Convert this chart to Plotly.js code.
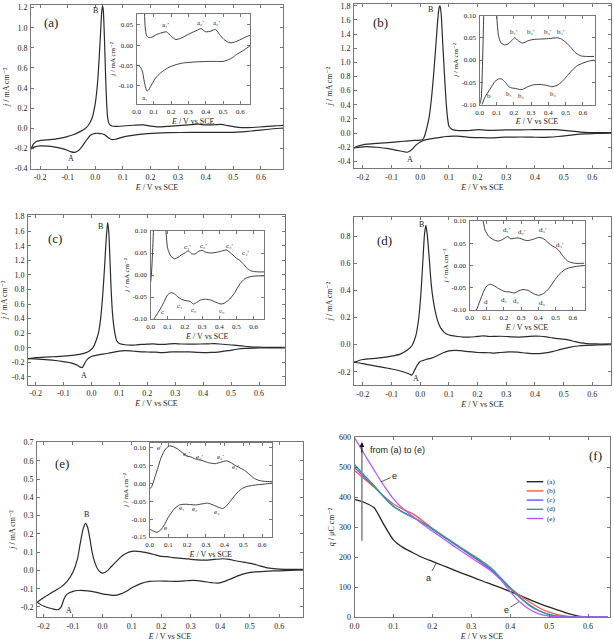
<!DOCTYPE html>
<html><head><meta charset="utf-8">
<script src="https://cdn.plot.ly/plotly-3.0.1.min.js"></script>
<style>html,body{margin:0;padding:0;background:#fff}</style>
</head><body><div id="chart" style="width:614px;height:641px"></div>
<script>
// ---------------- DATA ----------------
// (a) cyclic voltammogram: forward (anodic) and reverse (cathodic) branches
const aFwdE=[-0.233,-0.225,-0.215,-0.2,-0.165,-0.13,-0.105,-0.08,-0.057,-0.04,-0.025,-0.012,0.0,0.008,0.014,0.019,0.023,0.026,0.029,0.033,0.037,0.041,0.045,0.05,0.057,0.065,0.072,0.09,0.11,0.14,0.173,0.2,0.227,0.26,0.3,0.35,0.373,0.4,0.43,0.456,0.48,0.505,0.53,0.55,0.58,0.61,0.64,0.66,0.68];
const aFwdJ=[-0.205,-0.16,-0.133,-0.122,-0.113,-0.1,-0.086,-0.065,-0.036,-0.01,0.03,0.1,0.25,0.45,0.7,0.95,1.15,1.22,1.17,0.9,0.55,0.25,0.1,0.045,0.025,0.02,0.019,0.02,0.025,0.03,0.033,0.022,0.014,0.018,0.027,0.037,0.041,0.033,0.035,0.039,0.026,0.014,0.007,0.006,0.01,0.016,0.022,0.025,0.028];
const aRevE=[0.68,0.654,0.62,0.577,0.553,0.53,0.5,0.46,0.42,0.35,0.266,0.22,0.18,0.14,0.11,0.09,0.072,0.063,0.058,0.05,0.043,0.035,0.023,0.01,0.0,-0.015,-0.03,-0.045,-0.06,-0.075,-0.09,-0.11,-0.14,-0.17,-0.2,-0.22,-0.233];
const aRevJ=[0.003,-0.002,-0.012,-0.023,-0.031,-0.036,-0.04,-0.04,-0.04,-0.041,-0.044,-0.049,-0.056,-0.068,-0.081,-0.095,-0.109,-0.113,-0.112,-0.1,-0.085,-0.066,-0.054,-0.05,-0.05,-0.065,-0.11,-0.17,-0.22,-0.24,-0.232,-0.21,-0.19,-0.178,-0.175,-0.185,-0.205];
// (b)
const bFwdE=[-0.231,-0.22,-0.2,-0.15,-0.1,-0.06,-0.03,0.0,0.01,0.016,0.022,0.03,0.038,0.046,0.054,0.061,0.066,0.069,0.073,0.078,0.084,0.09,0.095,0.1,0.11,0.125,0.15,0.17,0.19,0.205,0.225,0.25,0.28,0.31,0.35,0.4,0.45,0.47,0.5,0.53,0.56,0.59,0.62,0.665];
const bFwdJ=[-0.21,-0.185,-0.165,-0.145,-0.13,-0.115,-0.105,-0.1,-0.085,-0.03,0.06,0.2,0.45,0.8,1.22,1.6,1.78,1.8,1.68,1.3,0.85,0.45,0.22,0.1,0.055,0.038,0.034,0.037,0.045,0.05,0.043,0.038,0.043,0.046,0.047,0.048,0.05,0.048,0.04,0.028,0.015,0.009,0.008,0.008];
const bRevE=[0.665,0.63,0.6,0.57,0.54,0.51,0.48,0.45,0.42,0.39,0.35,0.31,0.28,0.25,0.23,0.21,0.19,0.17,0.15,0.13,0.115,0.09,0.07,0.05,0.03,0.015,0.0,-0.015,-0.03,-0.045,-0.06,-0.08,-0.11,-0.15,-0.19,-0.231];
const bRevJ=[0.0,-0.003,-0.007,-0.012,-0.022,-0.035,-0.048,-0.057,-0.06,-0.057,-0.055,-0.056,-0.06,-0.066,-0.066,-0.064,-0.063,-0.06,-0.05,-0.043,-0.042,-0.048,-0.06,-0.072,-0.085,-0.1,-0.125,-0.17,-0.235,-0.27,-0.26,-0.245,-0.22,-0.2,-0.19,-0.21];
// (c)
const cFwdE=[-0.227,-0.2,-0.15,-0.1,-0.06,-0.03,-0.01,0.005,0.015,0.025,0.033,0.04,0.047,0.053,0.058,0.062,0.066,0.07,0.075,0.08,0.085,0.09,0.1,0.12,0.14,0.16,0.18,0.2,0.22,0.24,0.26,0.28,0.3,0.32,0.35,0.39,0.42,0.44,0.46,0.48,0.5,0.52,0.54,0.56,0.58,0.6,0.63,0.66,0.693];
const cFwdJ=[-0.15,-0.135,-0.125,-0.115,-0.1,-0.08,-0.05,0.0,0.08,0.2,0.4,0.7,1.1,1.5,1.72,1.6,1.25,0.85,0.5,0.3,0.18,0.1,0.06,0.042,0.037,0.04,0.046,0.05,0.055,0.048,0.048,0.054,0.056,0.052,0.05,0.052,0.055,0.057,0.052,0.045,0.038,0.033,0.025,0.016,0.01,0.008,0.007,0.007,0.006];
const cRevE=[0.693,0.66,0.62,0.58,0.55,0.52,0.49,0.46,0.43,0.41,0.38,0.35,0.32,0.29,0.27,0.25,0.23,0.2,0.18,0.16,0.14,0.12,0.1,0.08,0.06,0.04,0.02,0.0,-0.015,-0.025,-0.032,-0.04,-0.05,-0.07,-0.1,-0.14,-0.19,-0.227];
const cRevJ=[0.0,-0.002,-0.002,-0.004,-0.008,-0.02,-0.04,-0.055,-0.064,-0.066,-0.062,-0.057,-0.055,-0.057,-0.062,-0.066,-0.06,-0.058,-0.055,-0.05,-0.043,-0.04,-0.045,-0.06,-0.075,-0.088,-0.1,-0.12,-0.16,-0.22,-0.27,-0.265,-0.24,-0.21,-0.19,-0.17,-0.155,-0.15];
// (d)
const dFwdE=[-0.231,-0.2,-0.15,-0.1,-0.07,-0.045,-0.03,-0.015,-0.005,0.003,0.01,0.015,0.02,0.025,0.032,0.038,0.045,0.055,0.065,0.075,0.09,0.11,0.13,0.15,0.17,0.19,0.21,0.22,0.24,0.26,0.28,0.3,0.32,0.34,0.37,0.4,0.42,0.44,0.46,0.48,0.5,0.52,0.54,0.56,0.58,0.61,0.665];
const dFwdJ=[-0.13,-0.11,-0.1,-0.085,-0.07,-0.04,-0.01,0.07,0.2,0.4,0.65,0.82,0.88,0.8,0.62,0.45,0.33,0.22,0.15,0.11,0.08,0.066,0.06,0.056,0.055,0.058,0.063,0.065,0.06,0.061,0.062,0.06,0.057,0.056,0.059,0.063,0.062,0.057,0.05,0.044,0.04,0.033,0.022,0.013,0.008,0.005,0.005];
const dRevE=[0.665,0.62,0.58,0.55,0.52,0.49,0.46,0.43,0.4,0.37,0.34,0.31,0.28,0.26,0.24,0.2,0.17,0.14,0.12,0.1,0.08,0.06,0.04,0.02,0.0,-0.01,-0.02,-0.03,-0.04,-0.06,-0.1,-0.15,-0.2,-0.231];
const dRevJ=[0.0,-0.002,-0.005,-0.01,-0.02,-0.035,-0.052,-0.063,-0.067,-0.063,-0.056,-0.054,-0.058,-0.062,-0.06,-0.058,-0.052,-0.045,-0.042,-0.046,-0.06,-0.08,-0.1,-0.11,-0.125,-0.15,-0.19,-0.225,-0.215,-0.2,-0.18,-0.16,-0.14,-0.13];
// (e)
const eFwdE=[-0.222,-0.2,-0.17,-0.14,-0.12,-0.1,-0.085,-0.075,-0.065,-0.057,-0.05,-0.042,-0.035,-0.025,-0.015,-0.005,0.0,0.01,0.02,0.03,0.045,0.06,0.075,0.09,0.11,0.13,0.15,0.18,0.2,0.22,0.24,0.26,0.28,0.3,0.32,0.35,0.38,0.41,0.43,0.46,0.49,0.51,0.53,0.56,0.59,0.62,0.66,0.68];
const eFwdJ=[-0.175,-0.15,-0.12,-0.09,-0.06,-0.01,0.06,0.15,0.23,0.258,0.235,0.17,0.1,0.04,0.005,-0.012,-0.015,-0.01,0.003,0.02,0.045,0.07,0.088,0.1,0.106,0.103,0.097,0.085,0.077,0.075,0.07,0.067,0.065,0.061,0.058,0.056,0.06,0.064,0.06,0.05,0.042,0.036,0.027,0.014,0.008,0.006,0.006,0.006];
const eRevE=[0.68,0.66,0.62,0.58,0.55,0.52,0.49,0.46,0.43,0.41,0.39,0.37,0.34,0.31,0.28,0.25,0.22,0.19,0.16,0.13,0.1,0.08,0.06,0.04,0.02,0.0,-0.02,-0.05,-0.08,-0.1,-0.12,-0.13,-0.14,-0.15,-0.17,-0.2,-0.222];
const eRevJ=[0.003,0.002,-0.001,-0.003,-0.005,-0.008,-0.015,-0.03,-0.05,-0.063,-0.07,-0.067,-0.06,-0.055,-0.057,-0.06,-0.059,-0.058,-0.06,-0.072,-0.095,-0.115,-0.13,-0.137,-0.133,-0.128,-0.12,-0.112,-0.11,-0.115,-0.13,-0.155,-0.2,-0.215,-0.21,-0.195,-0.175];
// (f) charge density q vs E
const qE=[0,0.025,0.05,0.075,0.1,0.125,0.15,0.175,0.2,0.225,0.25,0.275,0.3,0.325,0.35,0.375,0.4,0.425,0.45,0.475,0.5,0.525,0.55,0.575,0.6,0.625,0.65];
const qA=[393,383,366,310,258,232,215,199,186,173,160,147,135,122,110,98,85,72,58,45,33,22,11,3,0,0,0];
const qB=[490,462,435,405,378,360,345,322,296,272,250,228,205,182,157,128,98,72,50,30,16,7,2,0,0,0,0];
const qC=[500,468,437,402,370,350,333,315,294,272,250,228,207,185,160,128,95,65,38,20,8,2,0,0,0,0,0];
const qD=[510,474,440,403,370,350,333,316,296,274,252,231,210,189,165,132,97,66,40,21,9,3,0,0,0,0,0];
const qEe=[600,545,492,440,395,362,336,310,287,265,242,220,198,177,155,125,85,50,25,10,3,0,0,0,0,0,0];
const fNames=['(a)','(b)','(c)','(d)','(e)'];
// tick values
const cvTicksX=[-0.2,-0.1,0.0,0.1,0.2,0.3,0.4,0.5,0.6];
const insetTicksX=[0.0,0.1,0.2,0.3,0.4,0.5,0.6];
const aTicksY=[-0.4,-0.2,0.0,0.2,0.4,0.6,0.8,1.0,1.2];
const bTicksY=[-0.4,-0.2,0.0,0.2,0.4,0.6,0.8,1.0,1.2,1.4,1.6,1.8];
const cTicksY=[-0.4,-0.2,0.0,0.2,0.4,0.6,0.8,1.0,1.2,1.4,1.6,1.8];
const dTicksY=[-0.2,0.0,0.2,0.4,0.6,0.8];
const eTicksY=[-0.2,-0.1,0.0,0.1,0.2,0.3,0.4,0.5,0.6,0.7];
const aInsetTicksY=[-0.10,-0.05,0.00,0.05];
const bcdInsetTicksY=[-0.10,-0.05,0.00,0.05,0.10];
const eInsetTicksY=[-0.15,-0.10,-0.05,0.00,0.05,0.10];
const fTicksX=[0.0,0.1,0.2,0.3,0.4,0.5,0.6];
const fTicksY=[0,100,200,300,400,500,600];

// ---------------- LAYOUT ----------------
const W=614,H=641;
const SERIF='"Liberation Serif","Times New Roman","DejaVu Serif",serif';
const SANS='"Liberation Sans",Arial,sans-serif';
const INK='#222';
function fmt(a,d){return a.map(v=>v.toFixed(d));}
function axis(px0,px1,isX,range,tv,dec,anchor,fs,title,tfs,standoff){
  const dom=isX?[px0/W,px1/W]:[1-px1/H,1-px0/H];
  return {domain:dom,range:range,anchor:anchor,tickmode:'array',tickvals:tv,ticktext:fmt(tv,dec),
    ticks:'inside',ticklen:3,tickwidth:0.8,tickcolor:'#555',showline:true,mirror:'ticks',linecolor:'#777',linewidth:1,
    showgrid:false,zeroline:false,automargin:false,fixedrange:true,ticklabelstandoff:1,
    tickfont:{family:SERIF,size:fs,color:INK},
    title:{text:title,font:{family:SERIF,size:tfs,color:INK},standoff:standoff}};
}
const XT='<i>E</i> / V vs SCE';
const YT='<i>j</i> / mA cm⁻²';
const panels=[
 {fwd:[aFwdE,aFwdJ],rev:[aRevE,aRevJ],box:[31,283,5,168.5],xr:[-0.233,0.68],yr:[-0.4,1.226],yt:aTicksY,
  ibox:[136.5,250,14,104],ixr:[0,0.655],iyr:[-0.145,0.077],iyt:aInsetTicksY},
 {fwd:[bFwdE,bFwdJ],rev:[bRevE,bRevJ],box:[354,611,4,168],xr:[-0.231,0.665],yr:[-0.493,1.825],yt:bTicksY,
  ibox:[479.5,594.5,15.5,104.5],ixr:[0,0.667],iyr:[-0.1,0.1],iyt:bcdInsetTicksY},
 {fwd:[cFwdE,cFwdJ],rev:[cRevE,cRevJ],box:[28,285,215,384.5],xr:[-0.227,0.693],yr:[-0.504,1.823],yt:cTicksY,
  ibox:[150.5,264,231,319],ixr:[0,0.66],iyr:[-0.1,0.1],iyt:bcdInsetTicksY},
 {fwd:[dFwdE,dFwdJ],rev:[dRevE,dRevJ],box:[354,611,217,385],xr:[-0.231,0.665],yr:[-0.298,0.942],yt:dTicksY,
  ibox:[469.5,584.5,221,310],ixr:[0,0.667],iyr:[-0.1,0.1],iyt:bcdInsetTicksY},
 {fwd:[eFwdE,eFwdJ],rev:[eRevE,eRevJ],box:[37,303,442,617],xr:[-0.222,0.681],yr:[-0.255,0.703],yt:eTicksY,
  ibox:[149.5,272,443,537],ixr:[0,0.653],iyr:[-0.15,0.114],iyt:eInsetTicksY}
];
const layout={width:W,height:H,margin:{l:0,r:0,t:0,b:0},paper_bgcolor:'#fff',plot_bgcolor:'rgba(0,0,0,0)',
  showlegend:false,annotations:[],shapes:[],font:{family:SERIF,color:INK}};
const traces=[];
function cvLine(x,y,xa,ya,w){return {x:x,y:y,xaxis:xa,yaxis:ya,type:'scatter',mode:'lines',hoverinfo:'skip',
  line:{color:'#2b2b2b',width:w,shape:'spline',smoothing:0.6}};}
panels.forEach((p,i)=>{
  const m=2*i+1,n=2*i+2;
  const mx='x'+(m===1?'':m), my='y'+(m===1?'':m), nx='x'+n, ny='y'+n;
  layout['xaxis'+(m===1?'':m)]=axis(p.box[0],p.box[1],true,p.xr,cvTicksX,1,my,8,XT,8,3);
  layout['yaxis'+(m===1?'':m)]=axis(p.box[2],p.box[3],false,p.yr,p.yt,1,mx,8,YT,8,3);
  layout['xaxis'+n]=axis(p.ibox[0],p.ibox[1],true,p.ixr,insetTicksX,1,ny,7,XT,8,2);
  layout['yaxis'+n]=axis(p.ibox[2],p.ibox[3],false,p.iyr,p.iyt,2,nx,7,YT,7,2);
  traces.push(cvLine(p.fwd[0],p.fwd[1],mx,my,1.2),cvLine(p.rev[0],p.rev[1],mx,my,1.2));
  traces.push(cvLine(p.fwd[0],p.fwd[1],nx,ny,0.9),cvLine(p.rev[0],p.rev[1],nx,ny,0.9));
});
// panel f
layout.xaxis11=axis(354.5,609.5,true,[0,0.655],fTicksX,1,'y11',8,XT,8,3);
layout.yaxis11=axis(437,617,false,[0,602],fTicksY,0,'x11',8,'<i>q</i> / μC cm⁻²',8,3);
const fSeries=[qA,qB,qC,qD,qEe];
const fColors=['#262626','#ff5757','#5a5aff','#2f9f86','#b35cff'];
fSeries.forEach((s,i)=>traces.push({x:qE,y:s,xaxis:'x11',yaxis:'y11',type:'scatter',mode:'lines',name:fNames[i],
  hoverinfo:'skip',line:{color:fColors[i],width:1.3,shape:'spline',smoothing:0.6}}));

// annotations
function ann(t,x,y,xr,yr,size,extra){return Object.assign({text:t,x:x,y:y,xref:xr,yref:yr,showarrow:false,
  font:{family:SERIF,size:size,color:INK},xanchor:'center',yanchor:'middle'},extra||{});}
const A=layout.annotations;
const mainLbl=[
 ['(a)',-0.16,1.05,'B',0.0,1.17,'A',-0.088,-0.305],
 ['(b)',-0.14,1.56,'B',0.036,1.75,'A',-0.035,-0.376],
 ['(c)',-0.131,1.50,'B',0.034,1.66,'A',-0.027,-0.385],
 ['(d)',-0.126,0.767,'B',0.004,0.884,'A',-0.015,-0.25],
 ['(e)',-0.138,0.585,'B',-0.055,0.305,'A',-0.112,-0.219]];
mainLbl.forEach((L,i)=>{const m=2*i+1;const xr='x'+(m===1?'':m),yr='y'+(m===1?'':m);
  A.push(ann(L[0],L[1],L[2],xr,yr,13),ann(L[3],L[4],L[5],xr,yr,8),ann(L[6],L[7],L[8],xr,yr,8));});
const insetLbl=[
 [["a₁′",0.173,0.05],["a₂′",0.373,0.056],["a₃′",0.464,0.054],["a₁",0.049,-0.129]],
 [["b₁′",0.2,0.062],["b₂′",0.3,0.062],["b₃′",0.4,0.062],["b₄′",0.47,0.062],
  ["b",0.055,-0.082],["b₁",0.17,-0.077],["b₂",0.245,-0.082],["b₃",0.43,-0.077]],
 [["c₁′",0.216,0.064],["c₂′",0.312,0.065],["c₃′",0.46,0.067],["c₄′",0.555,0.05],
  ["c",0.068,-0.084],["c₁",0.17,-0.071],["c₂",0.255,-0.079],["c₃",0.415,-0.081]],
 [["d₁′",0.219,0.079],["d₂′",0.307,0.075],["d₃′",0.424,0.079],["d₄′",0.526,0.045],
  ["d",0.095,-0.083],["d₁",0.2,-0.077],["d₂",0.27,-0.079],["d₃",0.424,-0.084]],
 [["e′",0.055,0.1],["e₁′",0.2,0.084],["e₂′",0.267,0.075],["e₃′",0.38,0.075],["e₄′",0.46,0.047],
  ["e",0.085,-0.125],["e₁",0.174,-0.069],["e₂",0.242,-0.072],["e₃",0.358,-0.081]]];
insetLbl.forEach((LL,i)=>{const n=2*i+2;LL.forEach(L=>A.push(ann(L[0],L[1],L[2],'x'+n,'y'+n,7)));});
// panel f annotations
A.push(ann('(f)',0.618,541,'x11','y11',13));
A.push(ann('from (a) to (e)',0.034,557,'x11','y11',9,{xanchor:'left',font:{family:SANS,size:9,color:INK}}));
A.push({x:0.019,y:585,ax:0.019,ay:545,xref:'x11',yref:'y11',axref:'x11',ayref:'y11',text:'',showarrow:true,
  arrowhead:2,arrowsize:0.8,arrowwidth:1.2,arrowcolor:'#111'});
layout.shapes.push({type:'line',xref:'x11',yref:'y11',x0:0.019,x1:0.019,y0:255,y1:560,line:{color:'#888',width:1.6}});
function leader(t,tx,ty,cx,cy){return {x:cx,y:cy,ax:tx,ay:ty,xref:'x11',yref:'y11',axref:'x11',ayref:'y11',text:t,
  showarrow:true,arrowhead:0,arrowwidth:0.8,arrowcolor:'#333',font:{family:SANS,size:9,color:INK}};}
A.push(leader('e',0.103,472,0.068,452));
A.push(leader('a',0.19,132,0.21,180));
A.push(leader('e',0.39,25,0.422,50));
// legend (f)
fNames.forEach((nm,i)=>{const py=481.7+i*9.2;
  layout.shapes.push({type:'line',xref:'paper',yref:'paper',x0:526.7/W,x1:543.3/W,y0:1-py/H,y1:1-py/H,line:{color:fColors[i],width:1.4}});
  A.push(ann(nm,545/W,1-py/H,'paper','paper',7,{xanchor:'left'}));});

Plotly.newPlot('chart',traces,layout,{staticPlot:true,displayModeBar:false});
</script></body></html>
